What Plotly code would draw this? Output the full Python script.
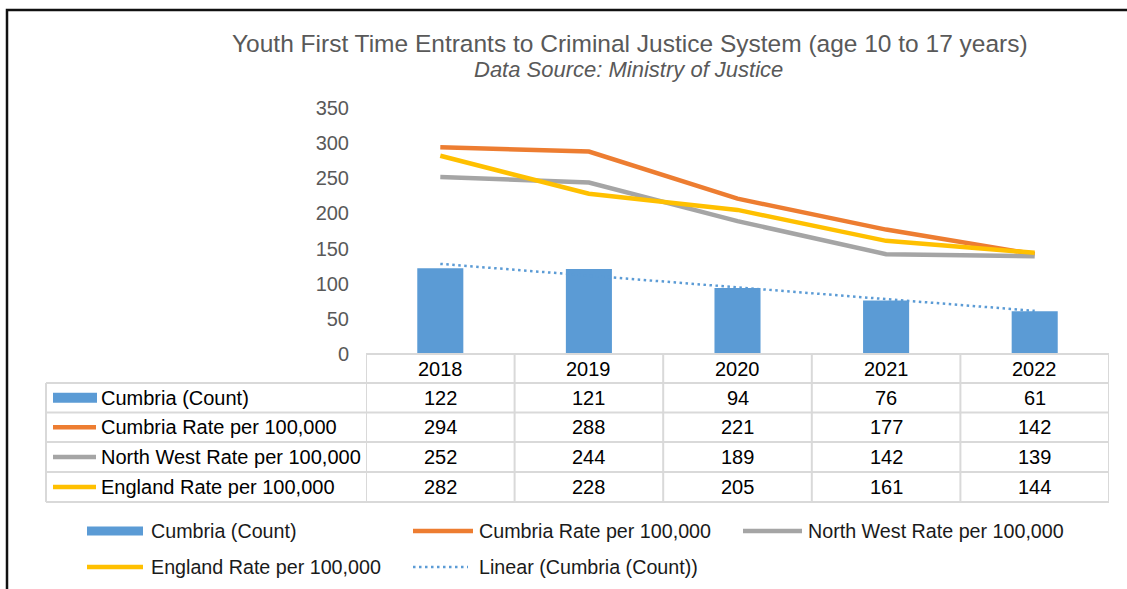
import numpy as np
import plotly.graph_objects as go

# ---------------- data ----------------
years = ["2018", "2019", "2020", "2021", "2022"]
cumbria_count = [122, 121, 94, 76, 61]
cumbria_rate = [294, 288, 221, 177, 142]
north_west_rate = [252, 244, 189, 142, 139]
england_rate = [282, 228, 205, 161, 144]
y_ticks = [0, 50, 100, 150, 200, 250, 300, 350]

series_names = ["Cumbria (Count)", "Cumbria Rate per 100,000",
                "North West Rate per 100,000", "England Rate per 100,000"]
trend_name = "Linear (Cumbria (Count))"
title_text = "Youth First Time Entrants to Criminal Justice System (age 10 to 17 years)"
subtitle_text = "Data Source: Ministry of Justice"

# ---------------- style ----------------
W, H = 1127, 589
PL, PR, PT, PB = 366, 1109, 108, 354   # plot area in pixels
FONT = "Liberation Sans, Arial, sans-serif"
C_BAR = "#5B9BD5"
C_OR = "#ED7D31"
C_GR = "#A5A5A5"
C_YE = "#FFC000"
GRID = "#D9D9D9"

def px(x):
    return (x - PL) / (PR - PL)

def py(y):
    return (PB - y) / (PB - PT)

fig = go.Figure()

fig.add_trace(go.Bar(x=years, y=cumbria_count, name=series_names[0],
                     marker=dict(color=C_BAR, line=dict(width=0)), width=0.31))
fig.add_trace(go.Scatter(x=years, y=cumbria_rate, mode="lines", name=series_names[1],
                         line=dict(color=C_OR, width=4.5)))
fig.add_trace(go.Scatter(x=years, y=north_west_rate, mode="lines", name=series_names[2],
                         line=dict(color=C_GR, width=4.5)))
fig.add_trace(go.Scatter(x=years, y=england_rate, mode="lines", name=series_names[3],
                         line=dict(color=C_YE, width=4.5)))

idx = np.arange(1, len(years) + 1)
slope, intercept = np.polyfit(idx, cumbria_count, 1)
trend = slope * idx + intercept
fig.add_trace(go.Scatter(x=years, y=trend, mode="lines", name=trend_name,
                         line=dict(color=C_BAR, width=2.5, dash="2.5px,3.5px")))

shapes = []
annotations = []

# outer frame
shapes.append(dict(type="rect", xref="paper", yref="paper",
                   x0=px(7), x1=px(1140), y0=py(605), y1=py(10),
                   line=dict(color="#111111", width=2.5), fillcolor="rgba(0,0,0,0)", layer="below"))

# title and subtitle
annotations.append(dict(text=title_text, xref="paper", yref="paper", x=px(630), y=py(43),
                        xanchor="center", yanchor="middle", showarrow=False,
                        font=dict(family=FONT, size=24.5, color="#595959")))
annotations.append(dict(text="<i>" + subtitle_text + "</i>", xref="paper", yref="paper",
                        x=px(628), y=py(69), xanchor="center", yanchor="middle", showarrow=False,
                        font=dict(family=FONT, size=22, color="#595959")))

# ---------------- data table ----------------
row_edges = [354, 383, 412.5, 442, 472, 502]
left_edge = 46
# horizontal lines
shapes.append(dict(type="line", xref="paper", yref="paper", x0=px(PL), x1=px(PR),
                   y0=py(row_edges[0]), y1=py(row_edges[0]), line=dict(color=GRID, width=2)))
for ry in row_edges[1:]:
    shapes.append(dict(type="line", xref="paper", yref="paper", x0=px(left_edge), x1=px(PR),
                       y0=py(ry), y1=py(ry), line=dict(color=GRID, width=2)))
# vertical lines
shapes.append(dict(type="line", xref="paper", yref="paper", x0=px(left_edge), x1=px(left_edge),
                   y0=py(row_edges[1]), y1=py(row_edges[-1]), line=dict(color=GRID, width=2)))
for i in range(len(years) + 1):
    shapes.append(dict(type="line", xref="x", yref="paper", x0=i - 0.5, x1=i - 0.5,
                       y0=py(row_edges[0]), y1=py(row_edges[-1]), line=dict(color=GRID, width=2)))

# header (years) - category index positions
hy = (row_edges[0] + row_edges[1]) / 2
for i, yr in enumerate(years):
    annotations.append(dict(text=yr, xref="x", yref="paper", x=i, y=py(hy),
                            xanchor="center", yanchor="middle", showarrow=False,
                            font=dict(family=FONT, size=20, color="#000000")))

table_rows = [cumbria_count, cumbria_rate, north_west_rate, england_rate]
key_colors = [C_BAR, C_OR, C_GR, C_YE]
for r, (vals, name, col) in enumerate(zip(table_rows, series_names, key_colors)):
    cy = (row_edges[r + 1] + row_edges[r + 2]) / 2
    for i, v in enumerate(vals):
        annotations.append(dict(text=str(v), xref="x", yref="paper", x=i, y=py(cy),
                                xanchor="center", yanchor="middle", showarrow=False,
                                font=dict(family=FONT, size=20, color="#000000")))
    if r == 0:
        shapes.append(dict(type="rect", xref="paper", yref="paper", x0=px(53), x1=px(97),
                           y0=py(cy + 5), y1=py(cy - 5), fillcolor=col, line=dict(width=0)))
    else:
        shapes.append(dict(type="line", xref="paper", yref="paper", x0=px(53), x1=px(96),
                           y0=py(cy), y1=py(cy), line=dict(color=col, width=4.5)))
    annotations.append(dict(text=name, xref="paper", yref="paper", x=px(99), y=py(cy),
                            xanchor="left", yanchor="middle", showarrow=False,
                            font=dict(family=FONT, size=20, color="#000000")))

# ---------------- bottom legend ----------------
legend_items = [
    (series_names[0], "bar", C_BAR, 87, 143, 149, 531),
    (series_names[1], "line", C_OR, 413, 473, 477, 531),
    (series_names[2], "line", C_GR, 743, 802, 806, 531),
    (series_names[3], "line", C_YE, 87, 143, 149, 567),
    (trend_name, "dot", C_BAR, 413, 468, 477, 567),
]
for name, kind, col, kx0, kx1, tx, ly in legend_items:
    if kind == "bar":
        shapes.append(dict(type="rect", xref="paper", yref="paper", x0=px(kx0), x1=px(kx1),
                           y0=py(ly + 4.5), y1=py(ly - 4.5), fillcolor=col, line=dict(width=0)))
    elif kind == "line":
        shapes.append(dict(type="line", xref="paper", yref="paper", x0=px(kx0), x1=px(kx1),
                           y0=py(ly), y1=py(ly), line=dict(color=col, width=4.5)))
    else:
        shapes.append(dict(type="line", xref="paper", yref="paper", x0=px(kx0), x1=px(kx1),
                           y0=py(ly), y1=py(ly), line=dict(color=col, width=2.5, dash="2.5px,3.5px")))
    annotations.append(dict(text=name, xref="paper", yref="paper", x=px(tx), y=py(ly),
                            xanchor="left", yanchor="middle", showarrow=False,
                            font=dict(family=FONT, size=19.7, color="#1a1a1a")))

fig.update_layout(
    width=W, height=H,
    margin=dict(l=PL, r=W - PR, t=PT, b=H - PB, pad=0),
    paper_bgcolor="white", plot_bgcolor="white",
    showlegend=False,
    font=dict(family=FONT, size=20, color="#595959"),
    xaxis=dict(type="category", range=[-0.5, 4.5], showticklabels=False, showgrid=False,
               zeroline=False, showline=False, ticks=""),
    yaxis=dict(range=[0, 350], tickvals=y_ticks, showgrid=False, zeroline=False,
               showline=False, ticks="", ticklabelstandoff=16,
               tickfont=dict(family=FONT, size=20, color="#595959")),
    shapes=shapes, annotations=annotations,
)

fig.write_html("out.html", config={"displayModeBar": False},
               post_script="document.body.style.margin='0px';document.body.style.overflow='hidden';")
